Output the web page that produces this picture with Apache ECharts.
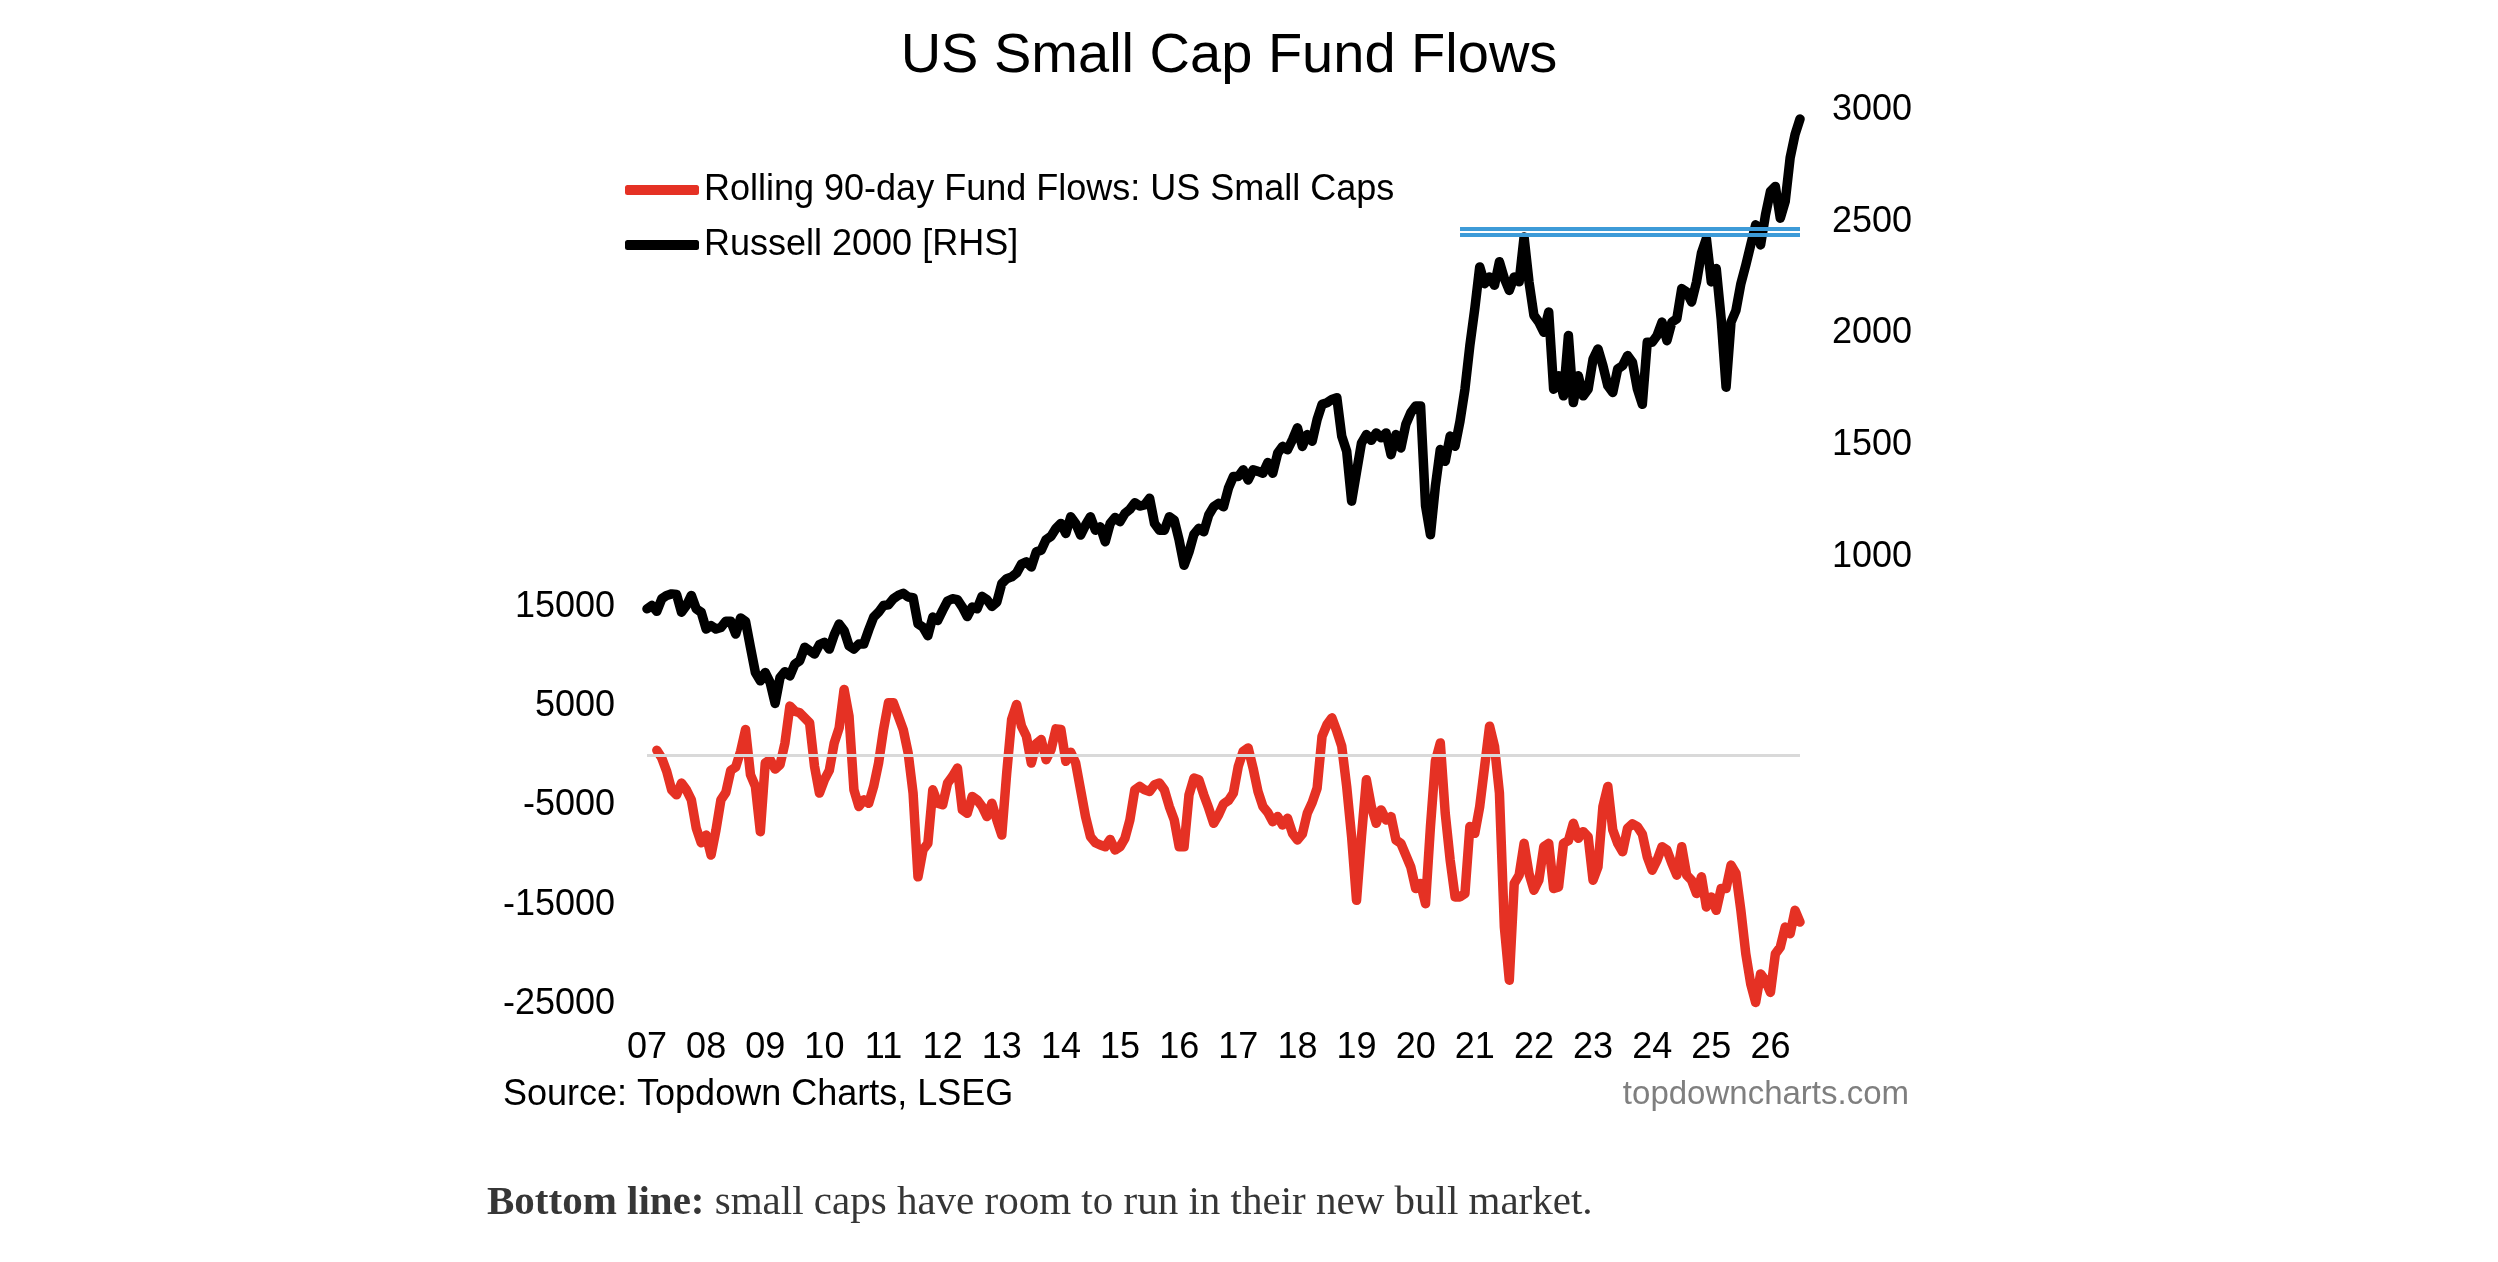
<!DOCTYPE html>
<html lang="en">
<head>
  <meta charset="UTF-8" />
  <title>US Small Cap Fund Flows</title>
  <script src="https://cdn.jsdelivr.net/npm/echarts@6/dist/echarts.min.js"></script>
  <style>
    html, body { margin: 0; padding: 0; background: #fff; }
    #chart { width: 2498px; height: 1262px; }
  </style>
</head>
<body>
  <div id="chart"></div>
  <script>
    // monthly categories, Jan 2007 .. Jul 2026
    const months = [];
    for (let y = 2007; y <= 2026; y++) {
      for (let m = 1; m <= 12; m++) {
        if (y === 2026 && m > 7) break;
        months.push(y + '-' + String(m).padStart(2, '0'));
      }
    }

    // Rolling 90-day fund flows (left axis), one value per month
    const fundFlows = [null, null,
      540, -240, -1580, -3440, -3940, -2760, -3440, -4450, -7310, -8760,
      -7990, -10010, -7480, -4450, -3710, -1480, -1150, 440, 2630, -1920, -3100, -7650,
      -740, -400, -1350, -910, 1280, 4990, 4480, 4310, 3810, 3300, -1080, -3770,
      -2430, -1480, 1280, 2800, 6670, 3980, -3440, -5120, -4450, -4790, -3100, -740,
      2630, 5320, 5320, 3980, 2630, 270, -3770, -12200, -9500, -8830, -3440, -4790,
      -4950, -2760, -2090, -1250, -5460, -5800, -4110, -4450, -5120, -6130, -4790, -6470,
      -7990, -1750, 3640, 5160, 2970, 1950, -740, 1210, 1620, -400, 610, 2700,
      2630, -570, 340, -740, -3440, -6130, -8160, -8760, -9000, -9170, -8430, -9500,
      -9170, -8320, -6470, -3440, -3100, -3440, -3610, -2930, -2760, -3440, -5120, -6470,
      -9170, -9170, -3940, -2260, -2430, -3940, -5290, -6810, -5960, -4850, -4520, -3770,
      -1080, 440, 780, -1250, -3610, -5120, -5730, -6640, -6130, -6980, -6300, -7820,
      -8490, -7890, -5800, -4720, -3270, 1950, 3130, 3810, 2460, 940, -3100, -8160,
      -14560, -8160, -2430, -5120, -6810, -5460, -6470, -6130, -8490, -8830, -10010, -11190,
      -13380, -12870, -14900, -7140, -570, 1280, -5800, -10510, -14220, -14220, -13880, -7140,
      -7820, -5120, -1080, 2970, 940, -3770, -17250, -22600, -12870, -12030, -8830, -11860,
      -13550, -12540, -9170, -8830, -13380, -13210, -8830, -8560, -6810, -8320, -7650, -8160,
      -12540, -11190, -5120, -3100, -7480, -8830, -9670, -7310, -6870, -7140, -7890, -10180,
      -11530, -10510, -9170, -9500, -10850, -12030, -9170, -12030, -12540, -13880, -12200, -15230,
      -14220, -15570, -13380, -13380, -11020, -11860, -15570, -19950, -22980, -24840, -21970, -22650,
      -23830, -19950, -19280, -17250, -17930, -15570, -16750
    ];

    // Russell 2000 (right axis), one value per month
    const russell = [
      768, 783, 757, 813, 828, 835, 832, 753, 783, 828, 768, 753,
      678, 693, 678, 685, 712, 712, 655, 727, 712, 596, 483, 446,
      483, 438, 345, 461, 487, 468, 521, 536, 596, 581, 566, 608,
      618, 588, 652, 700, 671, 603, 588, 611, 611, 674, 731, 753,
      783, 786, 813, 828, 838, 821, 818, 701, 686, 648, 731, 716,
      761, 803, 813, 809, 776, 734, 776, 768, 824, 809, 779, 798,
      881, 903, 911, 928, 968, 978, 955, 1023, 1030, 1078, 1093, 1128,
      1150, 1105, 1180, 1150, 1098, 1143, 1180, 1120, 1135, 1068, 1150, 1177,
      1158, 1195, 1213, 1243, 1228, 1233, 1263, 1150, 1120, 1120, 1180, 1165,
      1075, 963, 1023, 1102, 1128, 1113, 1188, 1225, 1240, 1225, 1308, 1360,
      1360, 1390, 1345, 1390, 1383, 1375, 1423, 1375, 1465, 1495, 1480, 1525,
      1578, 1495, 1548, 1518, 1615, 1683, 1690, 1705, 1713, 1540, 1473, 1250,
      1380, 1510, 1548, 1522, 1555, 1533, 1555, 1458, 1548, 1488, 1593, 1645,
      1676, 1676, 1230, 1100, 1316, 1481, 1428, 1541, 1496, 1608, 1751, 1946,
      2111, 2298, 2223, 2253, 2216, 2321, 2246, 2193, 2253, 2231, 2432, 2231,
      2081, 2051, 2006, 2096, 1751, 1811, 1721, 1991, 1691, 1811, 1721, 1751,
      1886, 1931, 1856, 1766, 1736, 1841, 1856, 1901, 1871, 1751, 1683, 1961,
      1961, 1991, 2051, 1968, 2051, 2066, 2201, 2186, 2141, 2231, 2360, 2425,
      2231, 2291, 2066, 1760, 2051, 2103, 2223, 2306, 2396, 2486, 2396, 2531,
      2636, 2658, 2516, 2591, 2786, 2891, 2960
    ];

    // resistance band drawn on the Russell axis
    const resistanceLevels = [2470, 2440];
    const resistanceStart = '2020-10';

    const FONT = '"Liberation Sans", Arial, sans-serif';
    const flowName = 'Rolling 90-day Fund Flows: US Small Caps';
    const rutName = 'Russell 2000 [RHS]';

    const chart = echarts.init(document.getElementById('chart'));
    chart.setOption({
      animation: false,
      backgroundColor: '#fff',
      graphic: [
        {
          type: 'text', x: 1229, y: 57,
          style: {
            text: 'US Small Cap Fund Flows', fill: '#000', font: '56px ' + FONT,
            align: 'center', verticalAlign: 'middle', textAlign: 'center', textVerticalAlign: 'middle'
          }
        },
        {
          type: 'text', x: 503, y: 1095,
          style: {
            text: 'Source: Topdown Charts, LSEG', fill: '#000', font: '36px ' + FONT,
            align: 'left', verticalAlign: 'middle', textAlign: 'left', textVerticalAlign: 'middle'
          }
        },
        {
          type: 'text', x: 1909, y: 1095,
          style: {
            text: 'topdowncharts.com', fill: '#7f7f7f', font: '33px ' + FONT,
            align: 'right', verticalAlign: 'middle', textAlign: 'right', textVerticalAlign: 'middle'
          }
        },
        {
          type: 'text', x: 487, y: 1203,
          style: {
            text: '{b|Bottom line:} small caps have room to run in their new bull market.',
            fill: '#363636', font: '41px "Liberation Serif", serif',
            align: 'left', verticalAlign: 'middle', textAlign: 'left', textVerticalAlign: 'middle',
            rich: { b: { font: 'bold 41px "Liberation Serif", serif', fill: '#363636' } }
          }
        }
      ],
      legend: {
        data: [flowName, rutName],
        orient: 'vertical',
        left: 620,
        top: 165,
        itemWidth: 74,
        itemHeight: 10,
        itemGap: 15,
        icon: 'roundRect',
        selectedMode: false,
        textStyle: { fontSize: 36, fontFamily: FONT, color: '#000', lineHeight: 40 }
      },
      grid: { left: 647, right: 698, top: 110, bottom: 258 },
      xAxis: {
        type: 'category',
        data: months,
        boundaryGap: false,
        axisLine: { show: false },
        axisTick: { show: false },
        splitLine: { show: false },
        axisLabel: {
          interval: (i, v) => v.endsWith('-01'),
          formatter: v => v.slice(2, 4),
          fontSize: 36, fontFamily: FONT, color: '#000', margin: 26
        }
      },
      yAxis: [
        {
          type: 'value',
          min: -25000, max: 65000, interval: 5000,
          axisLine: { show: false }, axisTick: { show: false }, splitLine: { show: false },
          axisLabel: {
            formatter: v => (v <= 15000 && (v + 25000) % 10000 === 0) ? String(v) : '',
            fontSize: 36, fontFamily: FONT, color: '#000', margin: 32
          }
        },
        {
          type: 'value', position: 'right',
          min: -1000, max: 3000, interval: 500,
          axisLine: { show: false }, axisTick: { show: false }, splitLine: { show: false },
          axisLabel: {
            formatter: v => v >= 1000 ? String(v) : '',
            fontSize: 36, fontFamily: FONT, color: '#000', margin: 32
          }
        }
      ],
      series: [
        {
          // zero line for the flows axis
          name: 'zero', type: 'line', data: [], yAxisIndex: 0, z: 1, silent: true,
          markLine: {
            silent: true, symbol: ['none', 'none'], label: { show: false },
            lineStyle: { color: '#d9d9d9', width: 3, type: 'solid' },
            data: [{ yAxis: 0 }]
          }
        },
        {
          name: 'resistance', type: 'line', data: [], yAxisIndex: 1, z: 1, silent: true,
          markLine: {
            silent: true, symbol: ['none', 'none'], label: { show: false },
            lineStyle: { color: '#3d9bd8', width: 4, type: 'solid' },
            data: resistanceLevels.map(lv => [
              { coord: [resistanceStart, lv] },
              { coord: [months[months.length - 1], lv] }
            ])
          }
        },
        {
          name: flowName, type: 'line', data: fundFlows, yAxisIndex: 0, z: 3,
          showSymbol: false, symbol: 'none',
          itemStyle: { color: '#e53124' },
          lineStyle: { color: '#e53124', width: 9.5, cap: 'round', join: 'round' }
        },
        {
          name: rutName, type: 'line', data: russell, yAxisIndex: 1, z: 4,
          showSymbol: false, symbol: 'none',
          itemStyle: { color: '#000' },
          lineStyle: { color: '#000', width: 9.5, cap: 'round', join: 'round' }
        }
      ]
    });
  </script>
</body>
</html>
